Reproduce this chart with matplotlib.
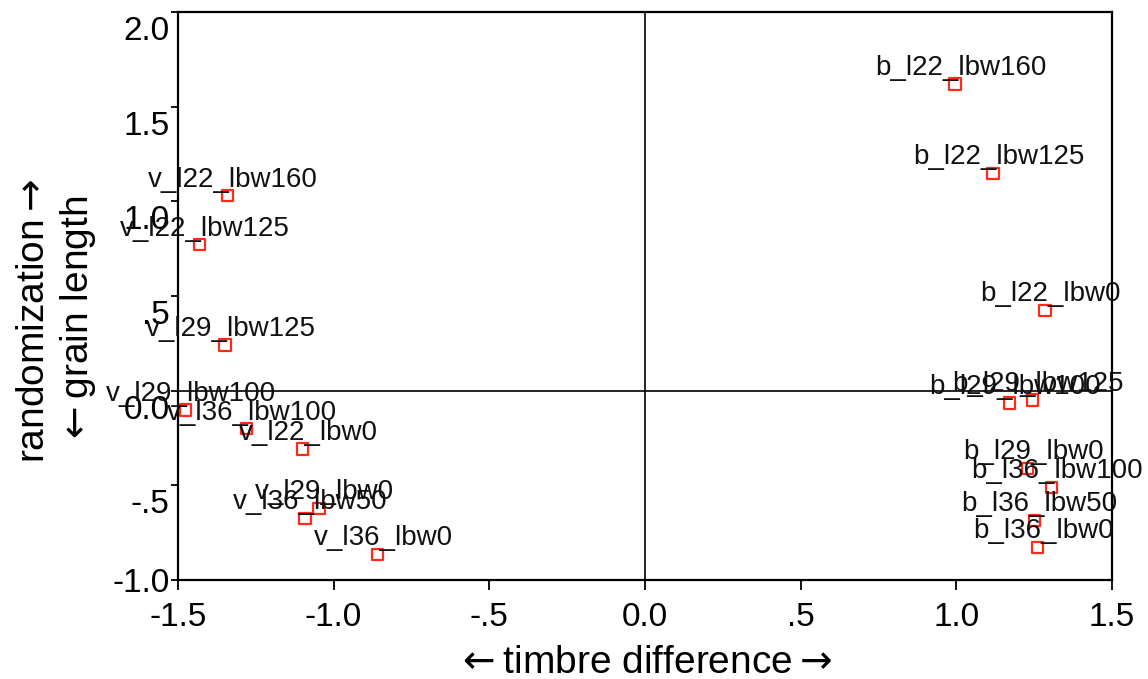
import matplotlib
matplotlib.use("Agg")
import matplotlib.pyplot as plt
import matplotlib.transforms as mtransforms

plt.rcParams['font.family'] = ['Liberation Sans', 'DejaVu Sans']
plt.rcParams['mathtext.fontset'] = 'dejavusans'

etiquetas = ['b_l22_lbw160', 'b_l22_lbw125', 'b_l22_lbw0',
             'b_l29_lbw125', 'b_l29_lbw100', 'b_l29_lbw0',
             'b_l36_lbw100', 'b_l36_lbw50', 'b_l36_lbw0',
             'v_l22_lbw160', 'v_l22_lbw125', 'v_l22_lbw0',
             'v_l29_lbw125', 'v_l29_lbw100', 'v_l29_lbw0',
             'v_l36_lbw100', 'v_l36_lbw50', 'v_l36_lbw0']
timbre = [0.996, 1.118, 1.285,
          1.246, 1.172, 1.230,
          1.307, 1.250, 1.262,
          -1.340, -1.430, -1.099,
          -1.349, -1.475, -1.047,
          -1.279, -1.092, -0.858]
grano = [1.620, 1.149, 0.425,
         -0.049, -0.065, -0.410,
         -0.510, -0.684, -0.826,
         1.029, 0.770, -0.308,
         0.241, -0.102, -0.620,
         -0.202, -0.673, -0.863]

xticks = [-1.5, -1.0, -0.5, 0.0, 0.5, 1.0, 1.5]
xtick_labels = ['-1.5', '-1.0', '-.5', '0.0', '.5', '1.0', '1.5']
yticks = [-1.0, -0.5, 0.0, 0.5, 1.0, 1.5, 2.0]
ytick_labels = ['-1.0', '-.5', '0.0', '.5', '1.0', '1.5', '2.0']

fig = plt.figure(figsize=(11.48, 6.79), dpi=100)
ax = fig.add_axes([0.155, 0.1458, 0.8136, 0.8365])

ax.axvline(0, color='black', lw=1.2, zorder=1)
ax.axhline(0, color='black', lw=1.2, zorder=1)

ax.scatter(timbre, grano, marker='s', s=64, facecolors='none',
           edgecolors='#ff2a1a', linewidths=1.6, zorder=3)

for nombre, x, y in zip(etiquetas, timbre, grano):
    ax.annotate(nombre, (x, y), xytext=(4, 6.5), textcoords='offset points',
                ha='center', va='baseline', fontsize=20, color='#111111',
                zorder=4)

ax.set_xlim(-1.5, 1.5)
ax.set_ylim(-1.0, 2.0)
ax.set_xticks(xticks)
ax.set_xticklabels(xtick_labels, fontsize=24)
ax.set_yticks(yticks)
ax.set_yticklabels(ytick_labels, fontsize=24)

for s in ax.spines.values():
    s.set_linewidth(1.6)
ax.tick_params(axis='x', length=7, width=1.3, pad=9)
ax.tick_params(axis='y', length=5, width=1.3, pad=1)

# las etiquetas del eje y aparecen desplazadas hacia abajo (menos -1.0)
desplaza = mtransforms.ScaledTranslation(0, -16 / 100, fig.dpi_scale_trans)
for lab, v in zip(ax.get_yticklabels(), yticks):
    if v > -1.0:
        lab.set_transform(lab.get_transform() + desplaza)

fig.text(0.561, 0.024, r'$\leftarrow$timbre difference$\rightarrow$',
         ha='center', va='center', fontsize=28)
fig.text(0.05, 0.527, 'randomization$\\rightarrow$\n$\\leftarrow$grain length',
         ha='center', va='center', rotation=90, fontsize=28, linespacing=1.2)

fig.savefig('out.png', dpi=100)
